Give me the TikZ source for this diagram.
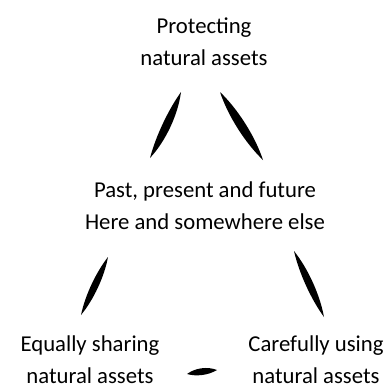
\documentclass[tikz,border=0pt]{standalone}
\usepackage{fontspec}
\setmainfont{Carlito}
\usetikzlibrary{calc}

% tapered ink stroke between two points, #3 and #4 = bulge on each side
\newcommand{\inkstroke}[4]{%
  \fill ($(#1)$) .. controls ($(#1)!.3!(#2)!#3!90:(#2)$) and ($(#1)!.7!(#2)!#3!90:(#2)$) .. ($(#2)$)
    .. controls ($(#1)!.7!(#2)!#4!-90:(#2)$) and ($(#1)!.3!(#2)!#4!-90:(#2)$) .. cycle;}

\tikzset{
  goal/.style = {align=center, inner sep=0pt, font=\fontsize{22.8}{32}\selectfont}
}

\begin{document}
\begin{tikzpicture}[x=1bp, y=-1bp]
\useasboundingbox (0,0) rectangle (390,390);

\node[goal] (protect) at (204,42) {Protecting\\natural assets};
\node[goal] (time) at (205,206) {Past, present and future\\Here and somewhere else};
\node[goal] (share) at (90,360) {Equally sharing\\natural assets};
\node[goal] (use) at (316,360) {Carefully using\\natural assets};

% stroke ends
\coordinate (p1) at (181,92);  \coordinate (p2) at (150,158);
\coordinate (p3) at (220,92);  \coordinate (p4) at (263,160);
\coordinate (p5) at (108,257); \coordinate (p6) at (81,315);
\coordinate (p7) at (294,251); \coordinate (p8) at (324,317);
\coordinate (p9) at (187,374); \coordinate (p10) at (217,370);

\inkstroke{p1}{p2}{7bp}{4bp}
\inkstroke{p3}{p4}{6bp}{6bp}
\inkstroke{p5}{p6}{5bp}{4.5bp}
\inkstroke{p7}{p8}{5.5bp}{4.5bp}
\inkstroke{p9}{p10}{5bp}{4bp}
\end{tikzpicture}
\end{document}
